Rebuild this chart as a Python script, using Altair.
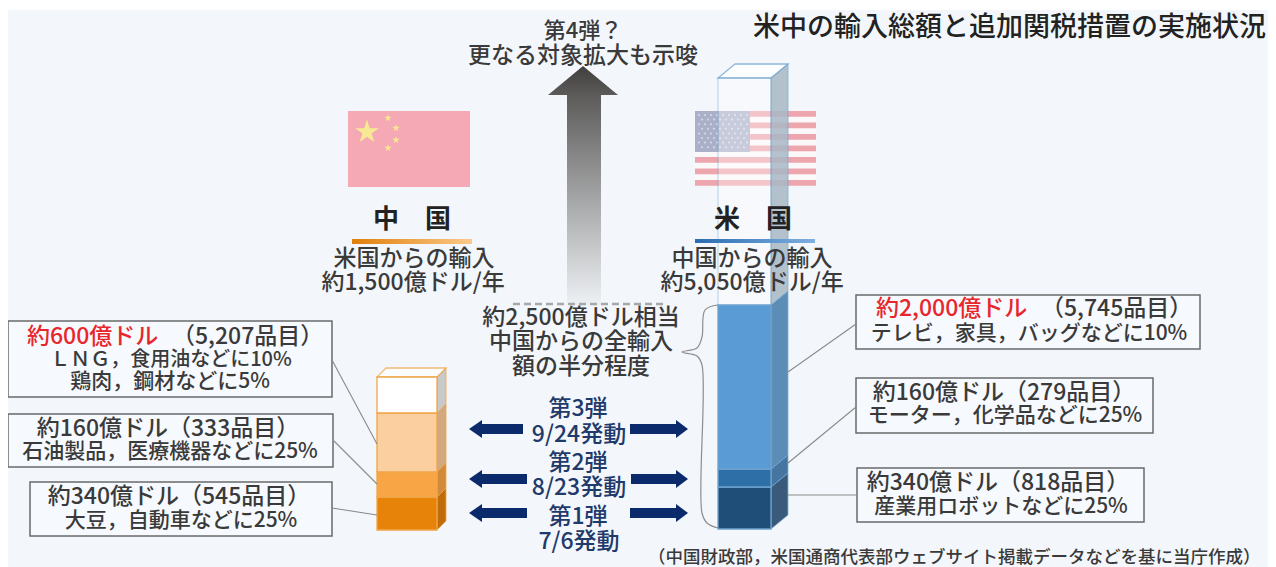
import altair as alt
import pandas as pd

FONT = "Noto Sans CJK JP"
BG = "#f3f7fb"
INK = "#3a3a3a"
NAVY = "#1f3a6b"
ARROW = "#0b2a6b"
RED = "#e8262c"

# stacked segments, bottom to top: (USD 100m), and the edges
segment_names = ["第1弾", "第2弾", "第3弾", "未発動"]
china_values = [340, 160, 600, 400]
us_values = [340, 160, 2000, 2550]
china_edges = [530, 497, 472, 413, 377]
us_edges = [529, 487, 469, 305, 78]
china_front = ["#e8830a", "#f8a545", "#fbcf9f", "#ffffff"]
china_side = ["#c06c08", "#d28a3a", "#d2a87e", "#c9c9c9"]
us_front = ["#1f4e79", "#2e6fa8", "#5b9bd5", "#ffffff"]
us_side = ["#1a3f66", "#2a5f92", "#417bab", "#a9b8c6"]

box_x = [8, 8, 30, 856, 856, 857]
box_x2 = [332, 333, 332, 1200, 1153, 1144]
box_y = [321, 414, 482, 295, 378, 468]
box_y2 = [397, 467, 536, 349, 433, 522]

link_x = [332, 377, 334, 377, 332, 377, 788, 856, 788, 856, 788, 856]
link_y = [360, 444, 441, 484, 508, 515, 372, 324, 463, 407, 495, 495]

center_text = ["第4弾？", "更なる対象拡大も示唆",
               "米国からの輸入", "約1,500億ドル/年", "中国からの輸入", "約5,050億ドル/年",
               "約2,500億ドル相当", "中国からの全輸入", "額の半分程度",
               "ＬＮＧ，食用油などに10%", "鶏肉，鋼材などに5%",
               "約160億ドル（333品目）", "石油製品，医療機器などに25%",
               "約340億ドル（545品目）", "大豆，自動車などに25%",
               "テレビ，家具，バッグなどに10%",
               "約160億ドル（279品目）", "モーター，化学品などに25%",
               "約340億ドル（818品目）", "産業用ロボットなどに25%"]
center_x = [583, 583, 414, 413, 752, 752, 581, 581, 581,
            171, 170, 168, 170, 179, 181, 1029, 1004, 1005, 998, 1001]
center_y = [31, 56, 259, 283, 259, 283, 318, 342, 367,
            360, 382, 429, 452, 497, 521, 334, 393, 416, 483, 507]
center_size = [22, 23, 23, 23, 23, 23, 23, 23, 23,
               20, 21, 23, 21, 23, 21, 21, 23, 21, 23, 21]

step_text = ["第3弾", "9/24発動", "第2弾", "8/23発動", "第1弾", "7/6発動"]
step_x = [578, 579, 578, 579, 578, 579]
step_y = [409, 435, 463, 488, 517, 542]

head_text = ["中　国", "米　国"]
head_x = [412, 753]
head_y = [220, 220]

left_text = ["約600億ドル", "（5,207品目）", "約2,000億ドル", "（5,745品目）",
             "（中国財政部，米国通商代表部ウェブサイト掲載データなどを基に当庁作成）"]
left_x = [27, 172, 876, 1041, 648]
left_y = [337, 337, 309, 309, 558]
left_color = [RED, INK, RED, INK, INK]
left_size = [23, 23, 23, 23, 17.5]

arrow_rows = [429, 479, 513]
arrow_left_end = [523, 527, 527]
arrow_right_start = [630, 631, 630]

cn_stars_x = [367, 388, 396, 396, 388]
cn_stars_y = [132, 118, 128, 140, 148]
cn_stars_s = [620, 60, 60, 60, 60]
us_stripes_y = [111, 122.5, 134, 145.5, 157, 168.5, 180]
star_path = "M0,-1L0.22,-0.31L0.95,-0.31L0.36,0.12L0.59,0.81L0,0.38L-0.59,0.81L-0.36,0.12L-0.95,-0.31L-0.22,-0.31Z"

W, H = 1260, 559
X = alt.X("x:Q", scale=alt.Scale(domain=[8, 1268], nice=False, zero=False), axis=None)
Y = alt.Y("y:Q", scale=alt.Scale(domain=[567, 8], nice=False, zero=False), axis=None)


def rects(rows, **mark):
    df = pd.DataFrame(rows, columns=["x", "x2", "y", "y2", "fill", "op", "stroke", "sw"])
    return alt.Chart(df).mark_rect(**mark).encode(
        x=X, x2="x2:Q", y=Y, y2="y2:Q",
        fill=alt.Fill("fill:N", scale=None),
        opacity=alt.Opacity("op:Q", scale=None),
        stroke=alt.Stroke("stroke:N", scale=None),
        strokeWidth=alt.StrokeWidth("sw:Q", scale=None),
    )


def grad_rect(x, x2, y, y2, c0, c1, horizontal=False):
    g = alt.Gradient(gradient="linear",
                     stops=[alt.GradientStop(color=c0, offset=0), alt.GradientStop(color=c1, offset=1)],
                     x1=0, x2=1 if horizontal else 0, y1=0, y2=0 if horizontal else 1)
    df = pd.DataFrame({"x": [x], "x2": [x2], "y": [y], "y2": [y2]})
    return alt.Chart(df).mark_rect(fill=g).encode(x=X, x2="x2:Q", y=Y, y2="y2:Q")


def side_face(x_pts, tops, bots, color, opacity, outline):
    df = pd.DataFrame({"x": x_pts, "y": tops, "y2": bots})
    return alt.Chart(df).mark_area(orient="vertical", color=color, opacity=opacity,
                                   stroke=outline, strokeWidth=0.8).encode(x=X, y=Y, y2="y2:Q")


def bar_layers(x1, x2, x3, d, edges, front, side, outline, top_op, side_op):
    layers = []
    rows = []
    for i in range(4):
        rows.append((x1, x2, edges[i], edges[i + 1], front[i], top_op if i == 3 else 1, outline, 1.3))
    for i in range(4):
        layers.append(side_face([x2, x3], [edges[i + 1], edges[i + 1] - d],
                                [edges[i], edges[i] - d], side[i], side_op, outline))
    tdf = pd.DataFrame({"y": [edges[4], edges[4] - d], "x": [x1, x1 + (x3 - x2)], "x2": [x2, x3]})
    layers.append(alt.Chart(tdf).mark_area(orient="horizontal", color="#ffffff", opacity=0.75,
                                           stroke=outline, strokeWidth=1.3).encode(
        y=Y, x=X, x2="x2:Q"))
    layers.append(rects(rows))
    return layers


layers = []
# background
layers.append(rects([(8, 1268, 10, 567, BG, 1, BG, 0)]))
# big arrow
head = pd.DataFrame({"y": [66, 95], "x": [583, 548], "x2": [583, 618]})
head_grad = alt.Gradient(gradient="linear", x1=0, x2=0, y1=0, y2=1,
                         stops=[alt.GradientStop(color="#403f3e", offset=0),
                                alt.GradientStop(color="#5c5b5a", offset=1)])
layers.append(alt.Chart(head).mark_area(orient="horizontal", fill=head_grad).encode(y=Y, x=X, x2="x2:Q"))
layers.append(grad_rect(567, 601, 95, 305, "#5c5b5a", "#eef1f4"))

# flags
layers.append(rects([(348, 470, 111, 187, "#f4a9b4", 1, "#f4a9b4", 0)]))
stars = pd.DataFrame({"x": cn_stars_x, "y": cn_stars_y, "s": cn_stars_s})
layers.append(alt.Chart(stars).mark_point(shape=star_path, filled=True, color="#f8ea93", opacity=1).encode(
    x=X, y=Y, size=alt.Size("s:Q", scale=None)))
layers.append(rects([(695, 816, 111, 186, "#fbf8f9", 1, "#fbf8f9", 0)]
                    + [(695, 816, v, v + 5.8, "#eda5ae", 1, "#eda5ae", 0) for v in us_stripes_y]
                    + [(695, 750, 111, 152, "#a9b0c8", 1, "#a9b0c8", 0)]))
dots = pd.DataFrame([{"x": 699 + 6 * i + (3 if j % 2 else 0), "y": 115 + 4.6 * j}
                     for j in range(8) for i in range(8 if j % 2 else 9)])
layers.append(alt.Chart(dots).mark_point(filled=True, color="#d8dcea", size=4, opacity=1).encode(x=X, y=Y))

# stacked 3-D bars
layers += bar_layers(377, 437, 446, 9, china_edges, china_front, china_side, "#f0a64a", 1, 1)
layers += bar_layers(718, 771, 788, 14, us_edges, us_front, us_side, "#6ea3cf", 0.35, 0.85)

# boxes
layers.append(rects([(a, b, c, d, "#f6f9fd", 1, "#6a6a6a", 1.5)
                     for a, b, c, d in zip(box_x, box_x2, box_y, box_y2)]))
# connectors
links = pd.DataFrame({"x": link_x, "y": link_y, "id": [i // 2 for i in range(12)], "o": [i % 2 for i in range(12)]})
layers.append(alt.Chart(links).mark_line(color="#8a8a8a", strokeWidth=1.1).encode(
    x=X, y=Y, detail="id:N", order="o:Q"))

# brace
brace_x = [718, 705, 702, 697, 682, 697, 702, 702, 707, 718]
brace_y = [305, 310, 337, 348, 352, 356, 365, 513, 523, 528]
brace = pd.DataFrame({"x": brace_x, "y": brace_y, "o": range(10)})
layers.append(alt.Chart(brace).mark_line(color="#8c8c8c", strokeWidth=1.2, interpolate="catmull-rom").encode(
    x=X, y=Y, order="o:Q"))

# dashed line
dash = pd.DataFrame({"x": [513, 663], "y": [304, 304]})
layers.append(alt.Chart(dash).mark_line(color="#a8a8a8", strokeWidth=2.5, strokeDash=[7, 4]).encode(x=X, y=Y))

# underlines
layers.append(grad_rect(352, 472, 239, 244, "#e07f0a", "#fbc98a", True))
layers.append(grad_rect(695, 815, 239, 243, "#2b6cb0", "#7fb0e0", True))

# step arrows: shaft (rect) plus head (area of two points)
for yy, le, rs in zip(arrow_rows, arrow_left_end, arrow_right_start):
    layers.append(rects([(481, le, yy - 5, yy + 5, ARROW, 1, ARROW, 0),
                         (rs, 677, yy - 5, yy + 5, ARROW, 1, ARROW, 0)]))
    layers.append(alt.Chart(pd.DataFrame({"x": [469, 482], "y": [yy, yy - 9], "y2": [yy, yy + 9]}))
                  .mark_area(orient="vertical", color=ARROW).encode(x=X, y=Y, y2="y2:Q"))
    layers.append(alt.Chart(pd.DataFrame({"x": [676, 688], "y": [yy - 9, yy], "y2": [yy + 9, yy]}))
                  .mark_area(orient="vertical", color=ARROW).encode(x=X, y=Y, y2="y2:Q"))


# text
def text_layer(df, align, weight=500):
    return alt.Chart(df).mark_text(align=align, baseline="middle", font=FONT, fontWeight=weight).encode(
        x=X, y=Y, text="t:N", size=alt.Size("s:Q", scale=None), color=alt.Color("c:N", scale=None))


layers.append(text_layer(pd.DataFrame({"t": center_text, "x": center_x, "y": center_y,
                                       "s": center_size, "c": INK}), "center"))
layers.append(text_layer(pd.DataFrame({"t": step_text, "x": step_x, "y": step_y, "s": 23, "c": NAVY}), "center"))
layers.append(text_layer(pd.DataFrame({"t": head_text, "x": head_x, "y": head_y, "s": 26, "c": "#222222"}), "center", 700))
layers.append(text_layer(pd.DataFrame({"t": left_text, "x": left_x, "y": left_y,
                                       "s": left_size, "c": left_color}), "left"))
layers.append(text_layer(pd.DataFrame({"t": ["米中の輸入総額と追加関税措置の実施状況"], "x": [1266], "y": [28],
                                       "s": [27], "c": ["#222222"]}), "right"))

chart = alt.layer(*layers).properties(
    width=W, height=H, padding=0, autosize=alt.AutoSizeParams(type="none"),
    background="#ffffff"
).configure_view(stroke=None)

chart.save("out.html", embed_options={"renderer": "svg", "actions": False})
